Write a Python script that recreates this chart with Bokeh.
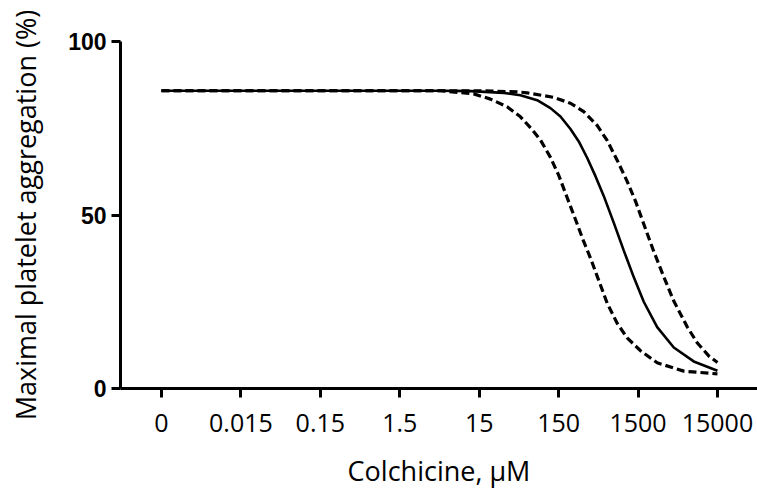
import numpy as np
from bokeh.plotting import figure
from bokeh.models import FixedTicker, Range1d
from bokeh.embed import file_html
from bokeh.resources import INLINE

# Tick labels of the x axis (log-spaced doses, "0" drawn one decade below 0.015)
tick_conc = [0.0015, 0.015, 0.15, 1.5, 15, 150, 1500, 15000]
tick_labels = ["0", "0.015", "0.15", "1.5", "15", "150", "1500", "15000"]
y_ticks = [0, 50, 100]

# Fitted curve (solid), concentration in uM and aggregation in %
fit_conc = [0.0015, 4.9, 11.65, 30.6, 49.6, 80.5, 118.4, 158.2, 211.4, 269,
            342.8, 436.5, 554.6, 741, 990, 1324, 1770, 2612, 4227, 7537, 15000]
fit_val = [85.8, 85.8, 85.7, 85.2, 84.5, 83.1, 80.8, 78.4, 74.8, 71.2, 66.5,
           61.2, 55.5, 47.8, 39.8, 32.1, 25.0, 17.7, 11.8, 7.8, 5.1]

# Lower confidence band (left dashed)
lo_conc = [0.0015, 4.9, 12.8, 20.8, 33.7, 49.6, 69.7, 88.7, 118.4, 150.7,
           192.2, 256.9, 311, 377.6, 458.1, 612.4, 818.5, 1094, 1607, 2612,
           5645, 15000]
lo_val = [85.8, 85.8, 84.9, 83.4, 81.2, 78.3, 74.6, 71.6, 66.6, 61.4, 55.0,
          47.4, 42.3, 37.6, 32.4, 24.6, 18.8, 14.6, 10.9, 7.4, 5.0, 4.2]

# Upper confidence band (right dashed)
hi_conc = [0.0015, 15.6, 45.1, 60.3, 130.3, 211.4, 311, 458.1, 612.4, 818.5,
           1094, 1393, 1770, 2366, 3162, 4227, 6227, 8318, 11641, 15000]
hi_val = [85.8, 85.8, 85.5, 85.2, 83.9, 82.2, 79.8, 75.8, 71.5, 65.8, 59.7,
          54.0, 47.4, 39.5, 32.2, 25.2, 17.8, 13.2, 9.4, 7.5]

base = tick_conc[0]


def pos(c):
    return np.log10(np.asarray(c, dtype=float) / base)


p = figure(width=757, height=494, output_backend="svg", toolbar_location=None,
           x_range=Range1d(-0.516, 7.504), y_range=Range1d(0, 100),
           min_border_left=120, min_border_right=0, min_border_top=41,
           min_border_bottom=106)
p.outline_line_color = None
p.xgrid.visible = False
p.ygrid.visible = False

p.line(pos(fit_conc), fit_val, line_color="black", line_width=2.6)
p.line(pos(lo_conc), lo_val, line_color="black", line_width=3.2,
       line_dash="8 4")
p.line(pos(hi_conc), hi_val, line_color="black", line_width=3.2,
       line_dash="8 4")

xa = p.xaxis[0]
xa.ticker = FixedTicker(ticks=list(range(len(tick_labels))))
xa.major_label_overrides = {i: t for i, t in enumerate(tick_labels)}
xa.minor_tick_line_color = None
xa.axis_line_width = 3
xa.major_tick_line_width = 3
xa.major_tick_out = 9
xa.major_tick_in = 0
xa.major_label_text_font = "Open Sans"
xa.major_label_text_font_size = "25px"
xa.major_label_text_color = "black"
xa.major_label_standoff = 16
xa.axis_label = "Colchicine, μM"
xa.axis_label_text_font = "Open Sans"
xa.axis_label_text_font_size = "27px"
xa.axis_label_text_font_style = "normal"
xa.axis_label_text_color = "black"
xa.axis_label_standoff = 17

ya = p.yaxis[0]
ya.ticker = FixedTicker(ticks=y_ticks)
ya.minor_tick_line_color = None
ya.axis_line_width = 3
ya.major_tick_line_width = 3
ya.major_tick_out = 9
ya.major_tick_in = 0
ya.major_label_text_font = "Liberation Sans"
ya.major_label_text_font_style = "bold"
ya.major_label_text_font_size = "23px"
ya.major_label_text_color = "black"
ya.major_label_standoff = 5
ya.axis_label = "Maximal platelet aggregation (%)"
ya.axis_label_text_font = "Open Sans"
ya.axis_label_text_font_size = "27px"
ya.axis_label_text_font_style = "normal"
ya.axis_label_text_color = "black"
ya.axis_label_standoff = 21

open("out.html", "w").write(file_html(p, INLINE))
